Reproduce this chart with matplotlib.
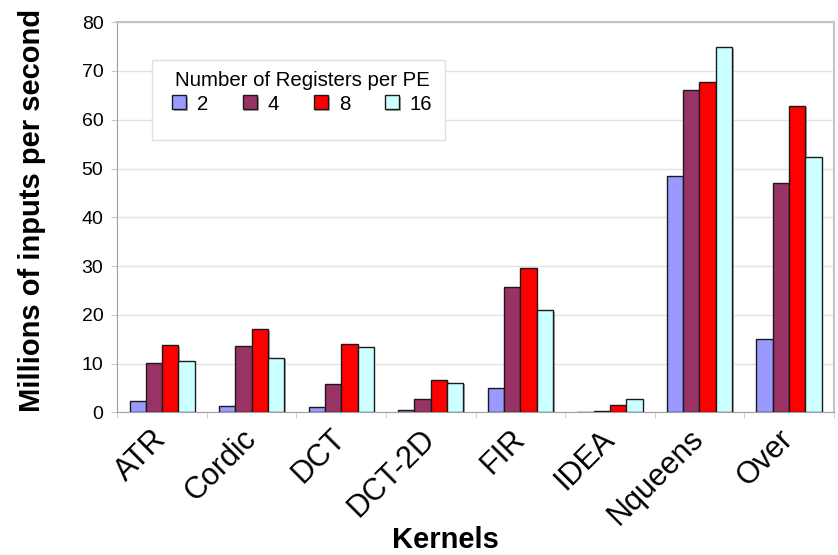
import matplotlib.pyplot as plt
import matplotlib.patheffects as pe
from matplotlib.patches import Rectangle
import numpy as np

plt.rcParams["font.family"] = ["Liberation Sans", "DejaVu Sans"]

kernels = ["ATR", "Cordic", "DCT", "DCT-2D", "FIR", "IDEA", "Nqueens", "Over"]
regs = ["2", "4", "8", "16"]

# millions of inputs per second, one list per register count
r2 = [2.3, 1.3, 1.0, 0.5, 5.0, 0.1, 48.5, 15.1]
r4 = [10.1, 13.6, 5.8, 2.7, 25.8, 0.3, 66.0, 47.0]
r8 = [13.8, 17.0, 14.0, 6.6, 29.5, 1.6, 67.7, 62.9]
r16 = [10.6, 11.2, 13.4, 6.1, 20.9, 2.8, 74.9, 52.3]

colors = ["#9999FF", "#993366", "#FF0000", "#CCFFFF"]

fig = plt.figure(figsize=(8.38, 5.55), dpi=100)
ax = fig.add_axes([0.14, 0.257, 0.855, 0.703])

x = np.arange(len(kernels))
w = 0.182
shadow = [pe.SimplePatchShadow(offset=(1.2, -1.2), shadow_rgbFace="#888888", alpha=0.7),
          pe.Normal()]
for k, (vals, c, lab) in enumerate(zip([r2, r4, r8, r16], colors, regs)):
    ax.bar(x + (k - 1.5) * w, vals, w, color=c, edgecolor="#1a1a1a",
           linewidth=1.0, label=lab, zorder=3, path_effects=shadow)

ax.set_xlim(-0.5, len(kernels) - 0.5)
ax.set_ylim(0, 80)
ax.set_yticks(range(0, 81, 10))
ax.yaxis.grid(True, color="#e3e3e3", linewidth=1, zorder=0)
ax.set_axisbelow(True)

for s in ["top", "right"]:
    ax.spines[s].set_color("#c4c4c4")
    ax.spines[s].set_linewidth(1.5)
for s in ["left", "bottom"]:
    ax.spines[s].set_color("#a0a0a0")

ax.set_xticks(x)
ax.set_xticks(np.arange(-0.5, len(kernels), 1), minor=True)
ax.set_xticklabels(kernels, rotation=45, ha="right", va="center",
                   rotation_mode="anchor", fontsize=22)
ax.tick_params(axis="x", which="major", length=0, pad=16)
ax.tick_params(axis="x", which="minor", length=4, color="#c8c8c8")
ax.tick_params(axis="y", length=4, color="#c8c8c8", labelsize=14, pad=6)

ax.set_xlabel("Kernels", fontsize=21, fontweight="bold")
ax.xaxis.set_label_coords(0.458, -0.29)
ax.set_ylabel("Millions of inputs per second", fontsize=21, fontweight="bold")
ax.yaxis.set_label_coords(-0.100, 0.518)

# legend box: frame drawn separately so there is room under the entries
ax.add_patch(Rectangle((0.048, 0.697), 0.409, 0.205, transform=ax.transAxes,
                       facecolor="white", edgecolor="#e0e0e0", linewidth=1,
                       zorder=4))
leg = ax.legend(title="Number of Registers per PE", ncol=4, fontsize=14.7,
                title_fontsize=14.7, loc="upper left",
                bbox_to_anchor=(0.062, 0.90), frameon=False,
                handlelength=0.69, handleheight=0.69, handletextpad=0.54,
                columnspacing=1.69, borderpad=0.0, labelspacing=0.2)
leg.set_zorder(5)

fig.savefig("out.png", dpi=100)
